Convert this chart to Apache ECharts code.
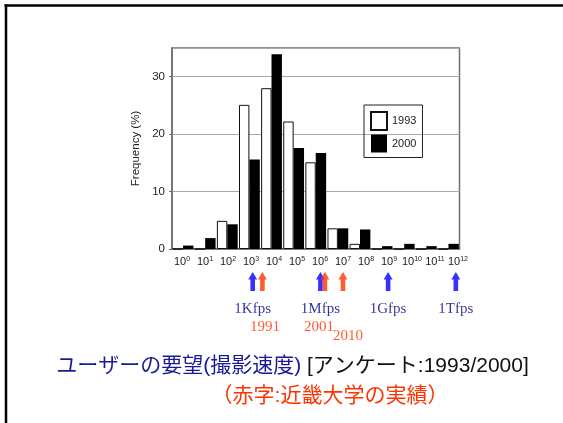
<!DOCTYPE html>
<html><head><meta charset="utf-8">
<script src="https://cdn.jsdelivr.net/npm/echarts@6/dist/echarts.min.js"></script>
<style>html,body{margin:0;padding:0;background:#fff}#c{width:563px;height:423px}</style>
</head><body><div id="c"></div>
<script>
// ---- data ----
const exponents = ['0','1','2','3','4','5','6','7','8','9','10','11','12'];
const freq1993 = [0, 0, 4.9, 25.1, 28.0, 22.2, 15.1, 3.6, 0.9, 0, 0, 0, 0];
const freq2000 = [0.6, 1.9, 4.3, 15.6, 33.9, 17.6, 16.7, 3.6, 3.4, 0.5, 0.9, 0.5, 0.9];
const seriesNames = ['1993', '2000'];
const blueArrowPos = [3, 6, 9, 12];
const blueArrowLabels = ['1Kfps', '1Mfps', '1Gfps', '1Tfps'];
const redArrowPos = [3.43, 6.2, 7.0];
const redArrowLabels = ['1991', '2001', '2010'];
const yAxisName = 'Frequency (%)';
const titleMain = 'ユーザーの要望(撮影速度)';
const titleSurvey = ' [アンケート:1993/2000]';
const subtitle = '（赤字:近畿大学の実績）';

const SANS = "'Liberation Sans', Arial, 'Noto Sans CJK JP', sans-serif";
const SERIF = "'Liberation Serif', 'DejaVu Serif', serif";
const ARROW = 'path://M4.5,0 L9,7.5 L6.8,7.5 L6.8,19 L2.2,19 L2.2,7.5 L0,7.5 Z';
const redOffsets = [[2.5, 0], [-6, 0], [5, 9]];

const chart = echarts.init(document.getElementById('c'), null, {renderer: 'canvas'});
chart.setOption({
  animation: false,
  backgroundColor: '#fff',
  grid: [
    {left: 172, top: 48, width: 287.5, height: 201, show: true, borderColor: '#6e6e6e', borderWidth: 1.5, backgroundColor: 'transparent'},
    {left: 170.5, top: 48, width: 299, height: 201, show: false},
    {left: 173.7, top: 272, width: 293.4, height: 19, show: false}
  ],
  legend: {
    data: seriesNames, orient: 'vertical', left: 364, top: 105,
    padding: [6, 6, 5, 6], itemWidth: 16, itemHeight: 18, itemGap: 3.5,
    borderColor: '#222', borderWidth: 1, icon: 'rect',
    textStyle: {fontSize: 11, color: '#222', fontFamily: SANS}
  },
  xAxis: [
    {type: 'category', gridIndex: 0, data: exponents, axisLabel: {show: false}, axisTick: {show: false},
     axisLine: {lineStyle: {color: '#6e6e6e', width: 1.5}}},
    {type: 'category', gridIndex: 1, data: exponents, axisLine: {show: false}, axisTick: {show: false},
     axisLabel: {margin: 7, interval: 0, formatter: v => '{b|10}{s|' + v + '}',
       rich: {b: {fontSize: 11, color: '#222', fontFamily: SANS, lineHeight: 12},
              s: {fontSize: 7, color: '#222', fontFamily: SANS, verticalAlign: 'top', lineHeight: 8}}}},
    {type: 'value', gridIndex: 2, min: -0.5, max: 12.5, show: false}
  ],
  yAxis: [
    {type: 'value', gridIndex: 0, min: 0, max: 35, interval: 10,
     name: yAxisName, nameLocation: 'middle', nameGap: 27,
     nameTextStyle: {fontSize: 11.5, color: '#222', fontFamily: SANS},
     axisLine: {show: true, lineStyle: {color: '#6e6e6e', width: 1.5}},
     axisTick: {show: true, length: 3, lineStyle: {color: '#6e6e6e'}},
     axisLabel: {showMaxLabel: false, margin: 7, fontSize: 11.5, color: '#222', fontFamily: SANS},
     splitLine: {lineStyle: {color: '#a8a8a8', width: 1.2}}},
    {type: 'value', gridIndex: 1, show: false},
    {type: 'value', gridIndex: 2, min: 0, max: 1, show: false}
  ],
  series: [
    {name: seriesNames[0], type: 'bar', xAxisIndex: 0, yAxisIndex: 0, data: freq1993,
     barGap: '0%', barCategoryGap: '6%',
     itemStyle: {color: '#fff', borderColor: '#111', borderWidth: 1}},
    {name: seriesNames[1], type: 'bar', xAxisIndex: 0, yAxisIndex: 0, data: freq2000,
     itemStyle: {color: '#000'}},
    {type: 'scatter', xAxisIndex: 2, yAxisIndex: 2, silent: true,
     symbol: ARROW, symbolSize: [9, 19], symbolKeepAspect: false,
     itemStyle: {color: '#0000ff'},
     label: {show: true, position: 'bottom', distance: 10, fontSize: 15, lineHeight: 16, color: '#000080', fontFamily: SERIF},
     data: blueArrowPos.map((e, i) => ({value: [e, 0.5], label: {formatter: blueArrowLabels[i]}}))},
    {type: 'scatter', xAxisIndex: 2, yAxisIndex: 2, silent: true,
     symbol: ARROW, symbolSize: [9, 19], symbolKeepAspect: false,
     itemStyle: {color: '#ff3300'},
     label: {show: true, position: 'bottom', distance: 28, fontSize: 15, lineHeight: 16, color: '#ff3300', fontFamily: SERIF},
     data: redArrowPos.map((e, i) => ({value: [e, 0.5], label: {formatter: redArrowLabels[i], offset: redOffsets[i]}}))}
  ],
  graphic: [
    {type: 'line', silent: true, shape: {x1: 4.5, y1: 5.5, x2: 563, y2: 5.5}, style: {stroke: '#000', lineWidth: 2.5}},
    {type: 'line', silent: true, shape: {x1: 6, y1: 4.5, x2: 6, y2: 423}, style: {stroke: '#000', lineWidth: 2.5}},
    {type: 'text', silent: true, x: 292.5, y: 366.5,
     style: {text: '{a|' + titleMain + '}{b|' + titleSurvey + '}', align: 'center', verticalAlign: 'middle',
       fontSize: 21, fontFamily: SANS,
       rich: {a: {fill: '#1a1a99', fontSize: 21, fontFamily: SANS}, b: {fill: '#111', fontSize: 21, fontFamily: SANS}}}},
    {type: 'text', silent: true, x: 330, y: 396.5,
     style: {text: subtitle, align: 'center', verticalAlign: 'middle', fontSize: 21, fontFamily: SANS, fill: '#ff3300'}}
  ]
});
</script>
</body></html>
